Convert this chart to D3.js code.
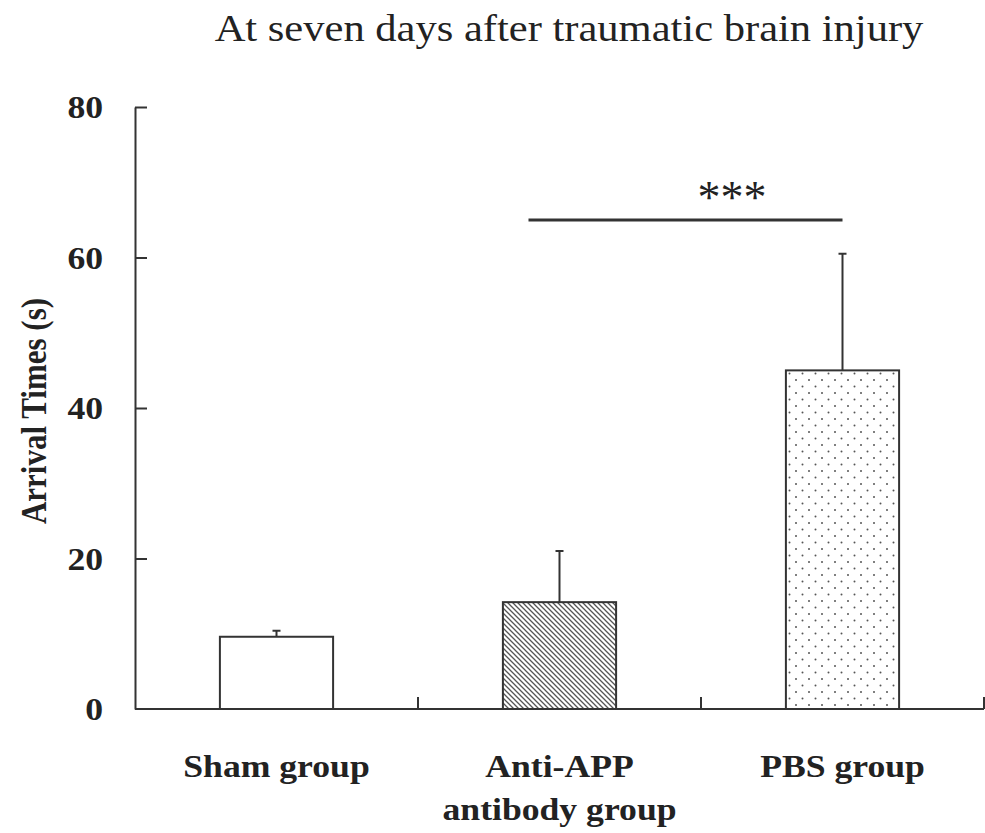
<!DOCTYPE html>
<html>
<head>
<meta charset="utf-8">
<script src="https://cdn.jsdelivr.net/npm/d3@7"></script>
<style>
  html, body { margin: 0; padding: 0; background: #fff; }
  svg { display: block; }
</style>
</head>
<body>
<svg id="chart" width="985" height="833"></svg>
<script>
const categories = ["Sham group", "Anti-APP antibody group", "PBS group"];
const labelLines = [["Sham group"], ["Anti-APP", "antibody group"], ["PBS group"]];
const means = [9.6, 14.2, 45.0];
const errors = [0.8, 6.8, 15.5];
const patterns = ["none", "hatch", "dots"];
const yTicks = [0, 20, 40, 60, 80];
const sigPair = ["Anti-APP antibody group", "PBS group"];
const sigValue = 65;
const sigLabel = "***";
const titleText = "At seven days after traumatic brain injury";
const yLabel = "Arrival Times (s)";

(function () {
const svg = d3.select("#chart");
const ink = "#333";
const font = "'Liberation Serif', 'Times New Roman', serif";
const sx = 1.15; // horizontal stretch of lettering in the reference

const defs = svg.append("defs");
const hatch = defs.append("pattern").attr("id", "hatch")
  .attr("patternUnits", "userSpaceOnUse").attr("width", 5).attr("height", 5);
hatch.append("path").attr("d", "M0,0 L5,5 M-1,4 L1,6 M4,-1 L6,1")
  .attr("stroke", "#555").attr("stroke-width", 1.3);
const dots = defs.append("pattern").attr("id", "dots")
  .attr("patternUnits", "userSpaceOnUse").attr("width", 13).attr("height", 13);
dots.append("circle").attr("cx", 3).attr("cy", 3).attr("r", 1).attr("fill", "#555");
dots.append("circle").attr("cx", 9.5).attr("cy", 9.5).attr("r", 1).attr("fill", "#555");

const mLeft = 135, mRight = 984, mTop = 107, mBottom = 709;
const x = d3.scaleBand().domain(categories).range([mLeft, mRight]).paddingInner(0.6).paddingOuter(0.3);
const y = d3.scaleLinear().domain([0, 80]).range([mBottom, mTop]);

// title
svg.append("text").attr("transform", `translate(569,41) scale(${sx},1)`).attr("text-anchor", "middle")
  .attr("font-family", font).attr("font-size", 37).attr("fill", "#222").text(titleText);

// y axis
const yAxis = svg.append("g").attr("transform", `translate(${mLeft},0)`)
  .call(d3.axisLeft(y).tickValues(yTicks).tickSize(-12).tickSizeOuter(0).tickPadding(32));
yAxis.select(".domain").attr("stroke", ink).attr("stroke-width", 2);
yAxis.selectAll(".tick line").attr("stroke", ink).attr("stroke-width", 2);
yAxis.selectAll(".tick").filter(d => d === 0).select("line").remove();
yAxis.selectAll(".tick text").attr("font-family", font).attr("font-weight", "bold")
  .attr("font-size", 31).attr("fill", "#222").attr("dy", "0.35em")
  .attr("transform", function () { const tx = +d3.select(this).attr("x"); return `translate(${tx * (1 - sx)},0) scale(${sx},1)`; });

// y label
svg.append("text").attr("transform", `translate(46,411) scale(${sx},1) rotate(-90)`)
  .attr("text-anchor", "middle").attr("font-family", font).attr("font-weight", "bold")
  .attr("font-size", 31).attr("fill", "#222").text(yLabel);

// x axis
svg.append("line").attr("x1", mLeft).attr("x2", mRight).attr("y1", y(0)).attr("y2", y(0))
  .attr("stroke", ink).attr("stroke-width", 2);
const boundaries = categories.map(c => x(c) + x.bandwidth() + (x.step() - x.bandwidth()) / 2);
svg.selectAll(".xtick").data(boundaries).join("line").attr("class", "xtick")
  .attr("x1", d => d).attr("x2", d => d).attr("y1", y(0)).attr("y2", y(0) - 12)
  .attr("stroke", ink).attr("stroke-width", 2);

// error bars (upper only)
const cap = 8;
categories.forEach((c, i) => {
  const cx = x(c) + x.bandwidth() / 2;
  svg.append("line").attr("x1", cx).attr("x2", cx)
    .attr("y1", y(means[i])).attr("y2", y(means[i] + errors[i]))
    .attr("stroke", ink).attr("stroke-width", 2);
  svg.append("line").attr("x1", cx - cap / 2).attr("x2", cx + cap / 2)
    .attr("y1", y(means[i] + errors[i])).attr("y2", y(means[i] + errors[i]))
    .attr("stroke", ink).attr("stroke-width", 2);
});

// bars
svg.selectAll(".bar").data(categories).join("rect").attr("class", "bar")
  .attr("x", d => x(d)).attr("width", x.bandwidth())
  .attr("y", (d, i) => y(means[i])).attr("height", (d, i) => y(0) - y(means[i]))
  .attr("fill", (d, i) => patterns[i] === "none" ? "#fff" : `url(#${patterns[i]})`)
  .attr("stroke", ink).attr("stroke-width", 2);

// x labels
labelLines.forEach((lines, i) => {
  const cx = x(categories[i]) + x.bandwidth() / 2;
  lines.forEach((t, j) => {
    svg.append("text").attr("transform", `translate(${cx},${777 + j * 43}) scale(${sx},1)`)
      .attr("text-anchor", "middle")
      .attr("font-family", font).attr("font-weight", "bold").attr("font-size", 31)
      .attr("fill", "#222").text(t);
  });
});

// significance
const sx1 = x(sigPair[0]) + x.bandwidth() / 2 - 31;
const sx2 = x(sigPair[1]) + x.bandwidth() / 2;
svg.append("line").attr("x1", sx1).attr("x2", sx2).attr("y1", y(sigValue)).attr("y2", y(sigValue))
  .attr("stroke", ink).attr("stroke-width", 3);
svg.append("text").attr("x", 732).attr("y", y(sigValue) - 7).attr("text-anchor", "middle")
  .attr("font-family", font).attr("font-size", 46).attr("fill", "#222").text(sigLabel);
})();
</script>
</body>
</html>
